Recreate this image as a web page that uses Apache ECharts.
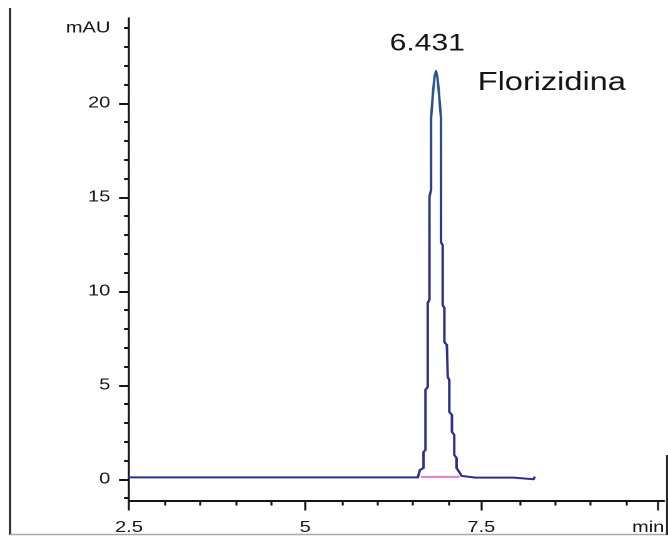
<!DOCTYPE html>
<html>
<head>
<meta charset="utf-8">
<script src="https://cdn.jsdelivr.net/npm/echarts@6/dist/echarts.min.js"></script>
<style>
  html, body { margin: 0; padding: 0; background: #fff; overflow: hidden; }
  #wrap { width: 668px; height: 537px; overflow: hidden; position: relative; background: #fff; }
  /* the plot is laid out on a narrower canvas and widened horizontally */
  #chart { width: 534px; height: 537px; transform-origin: 0 0; transform: scaleX(1.250936); }
</style>
</head>
<body>
<div id="wrap"><div id="chart"></div></div>
<script>
// Chromatogram trace: retention time (min) against absorbance (mAU)
const timeMin = [
  2.5, 6.599, 6.627, 6.679, 6.679, 6.707, 6.707, 6.739, 6.739, 6.763, 6.763,
  6.786, 6.786, 6.817, 6.835, 6.856, 6.876, 6.894, 6.927, 6.927, 6.951, 6.951,
  6.975, 6.975, 7.011, 7.023, 7.045, 7.045, 7.082, 7.082, 7.115, 7.115, 7.148,
  7.148, 7.194, 7.218, 7.26, 7.415, 7.96, 7.979, 8.239, 8.254
];
const absorbance = [
  0.1, 0.1, 0.49, 0.6, 1.45, 1.56, 4.76, 4.91, 9.38, 9.55, 15.02,
  15.39, 19.22, 20.71, 21.4, 21.72, 21.4, 20.71, 19.22, 12.61, 12.45, 9.27,
  9.11, 7.3, 7.14, 5.44, 5.28, 3.58, 3.42, 2.52, 2.36, 1.29, 1.13,
  0.6, 0.34, 0.18, 0.16, 0.085, 0.085, 0.0, 0.0, 0.1
];

// Integration baseline drawn under the peak
const baselineTime = [6.641, 7.19];
const baselineAbs = [0.13, 0.13];

// Peak annotation
const peakLabel = '6.431';
const compoundName = 'Florizidina';

// Axis ticks and labels
const xTickValues = [2.5, 5, 7.5, 10];
const xTickLabels = ['2.5', '5', '7.5', ''];
const xMinorStep = 0.5;
const xUnit = 'min';
const yTickValues = [0, 5, 10, 15, 20, 24];
const yTickLabels = ['0', '5', '10', '15', '20', 'mAU'];
const yMajorTicks = [0, 5, 10, 15, 20];
const yMinorStep = 1;

// Axis ranges
const xMin = 2.5, xMax = 10.09;
const yMin = -1.13, yMax = 24.54;

const FONT = '"Liberation Sans", Arial, sans-serif';
const INK = '#151515';

const traceData = timeMin.map((t, i) => [t, absorbance[i]]);
const baselineData = baselineTime.map((t, i) => [t, baselineAbs[i]]);

let apexIdx = 0;
absorbance.forEach((v, i) => { if (v > absorbance[apexIdx]) apexIdx = i; });
const apex = traceData[apexIdx];

const yMinorTicks = [];
for (let v = Math.ceil(yMin); v <= yMax; v += yMinorStep) yMinorTicks.push(v);
const xMinorTicks = [];
for (let v = xMin; v <= xMax + 1e-9; v += xMinorStep) {
  if (!xTickValues.some(m => Math.abs(m - v) < 1e-9)) xMinorTicks.push(+v.toFixed(3));
}

const gridBox = { left: 103.12, right: 0, top: 18, bottom: 36.5, containLabel: false };

const chart = echarts.init(document.getElementById('chart'), null, { renderer: 'canvas', devicePixelRatio: 2 });

// trace colour shifts slightly toward blue-teal near the apex
const traceColor = new echarts.graphic.LinearGradient(0, 0, 0, 1, [
  { offset: 0, color: '#2b5a8c' },
  { offset: 0.3, color: '#2e3d8c' },
  { offset: 0.45, color: '#2e2e8c' },
  { offset: 1, color: '#2e2e8c' }
]);

chart.setOption({
  animation: false,
  backgroundColor: '#ffffff',
  grid: [Object.assign({}, gridBox), Object.assign({}, gridBox)],
  xAxis: [
    {
      type: 'value', gridIndex: 0, min: xMin, max: xMax,
      name: xUnit, nameLocation: 'end', nameGap: -25.5,
      nameTextStyle: { fontFamily: FONT, fontSize: 16, color: INK, align: 'left', verticalAlign: 'top', padding: [19, 0, 0, 0] },
      axisLine: { show: true, onZero: false, lineStyle: { color: INK, width: 2 } },
      axisTick: { show: true, customValues: xTickValues, length: 10, lineStyle: { color: INK, width: 1.6 } },
      axisLabel: {
        show: true, customValues: xTickValues, margin: 19,
        fontFamily: FONT, fontSize: 16, color: INK,
        formatter: v => { const i = xTickValues.findIndex(m => Math.abs(m - v) < 1e-9); return i >= 0 ? xTickLabels[i] : ''; }
      },
      splitLine: { show: false }
    },
    {
      type: 'value', gridIndex: 1, min: xMin, max: xMax,
      axisLine: { show: false, onZero: false },
      axisTick: { show: true, customValues: xMinorTicks, length: 5, lineStyle: { color: INK, width: 1.6 } },
      axisLabel: { show: false },
      splitLine: { show: false }
    }
  ],
  yAxis: [
    {
      type: 'value', gridIndex: 0, min: yMin, max: yMax,
      axisLine: { show: true, onZero: false, lineStyle: { color: INK, width: 1.6 } },
      axisTick: { show: true, customValues: yMajorTicks, length: 8, lineStyle: { color: INK, width: 2 } },
      axisLabel: {
        show: true, customValues: yTickValues, margin: 15,
        fontFamily: FONT, fontSize: 16, color: INK,
        formatter: v => { const i = yTickValues.findIndex(m => Math.abs(m - v) < 1e-9); return i >= 0 ? yTickLabels[i] : ''; }
      },
      splitLine: { show: false }
    },
    {
      type: 'value', gridIndex: 1, min: yMin, max: yMax,
      axisLine: { show: false, onZero: false },
      axisTick: { show: true, customValues: yMinorTicks, length: 4, lineStyle: { color: INK, width: 2 } },
      axisLabel: { show: false },
      splitLine: { show: false }
    }
  ],
  graphic: [
    { type: 'line', silent: true, shape: { x1: 8, y1: 8, x2: 8, y2: 535 }, style: { stroke: '#2a2a2a', lineWidth: 1.8 } },
    { type: 'line', silent: true, shape: { x1: 8, y1: 534.5, x2: 534, y2: 534.5 }, style: { stroke: '#a8a8a8', lineWidth: 1.5 } },
    { type: 'line', silent: true, shape: { x1: 533.2, y1: 455, x2: 533.2, y2: 535 }, style: { stroke: '#2a2a2a', lineWidth: 1.6 } }
  ],
  series: [
    {
      name: 'baseline', type: 'line', xAxisIndex: 0, yAxisIndex: 0,
      data: baselineData, showSymbol: false, z: 2,
      lineStyle: { color: '#e07ad0', width: 2 }
    },
    {
      name: 'trace', type: 'line', xAxisIndex: 0, yAxisIndex: 0,
      data: traceData, showSymbol: false, z: 3,
      lineStyle: { color: traceColor, width: 2, join: 'round', cap: 'round' },
      markPoint: {
        silent: true, symbol: 'circle', symbolSize: 1,
        itemStyle: { color: 'rgba(0,0,0,0)' },
        data: [
          {
            coord: apex,
            label: { show: true, formatter: peakLabel, position: 'inside', offset: [-7, -27],
                     fontFamily: FONT, fontSize: 24, color: INK }
          },
          {
            coord: apex,
            label: { show: true, formatter: compoundName, position: 'inside', align: 'left', offset: [33.3, 12],
                     fontFamily: FONT, fontSize: 26, color: INK }
          }
        ]
      }
    }
  ]
});
</script>
</body>
</html>
